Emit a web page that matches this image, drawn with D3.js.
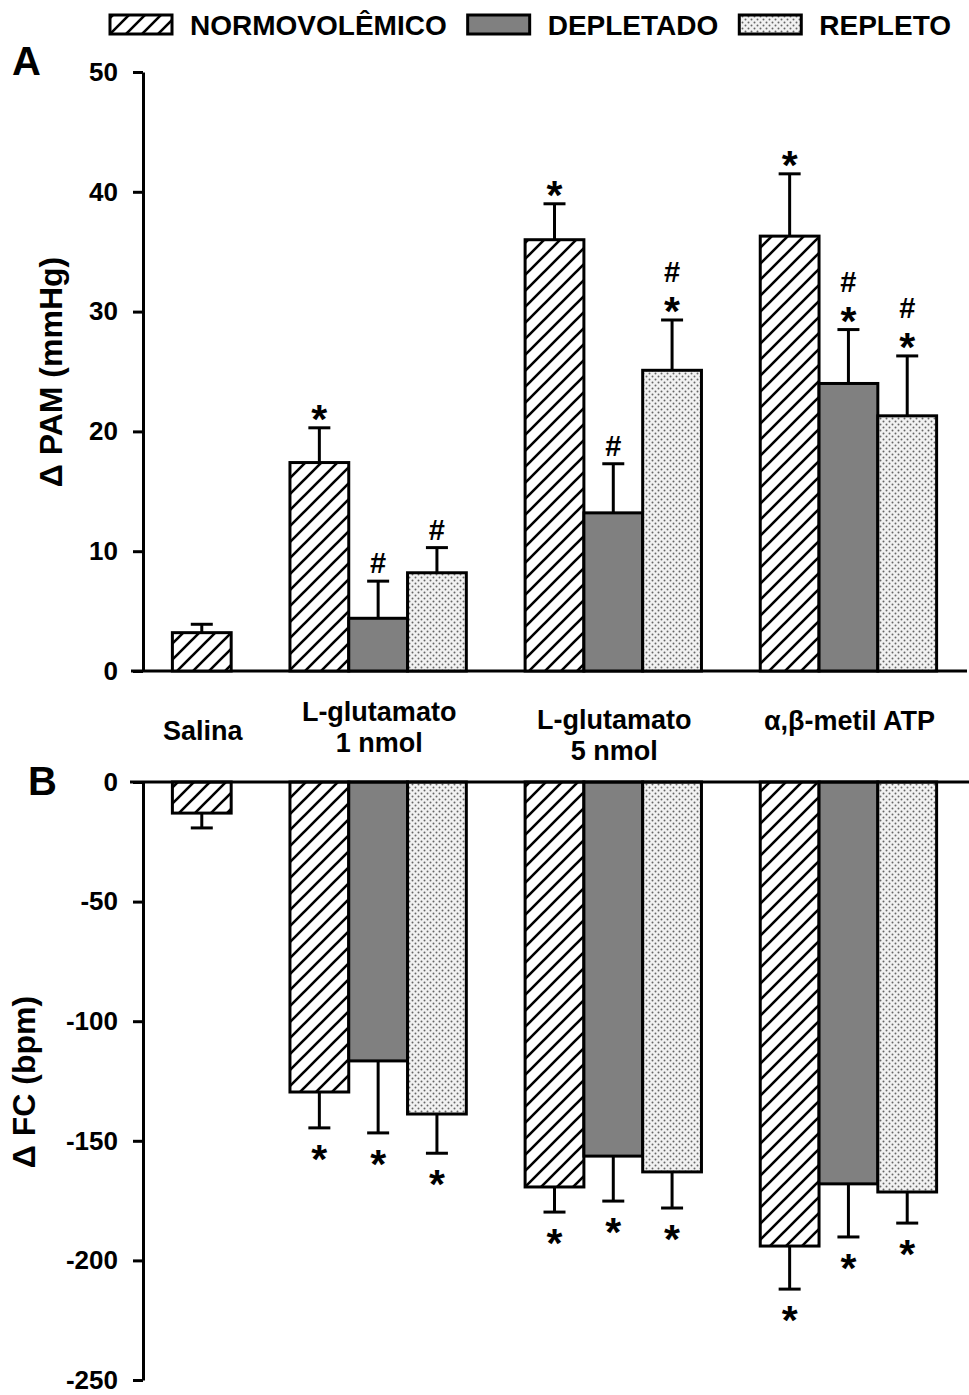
<!DOCTYPE html>
<html lang="pt">
<head>
<meta charset="UTF-8">
<title>PAM e FC</title>
<script src="https://d3js.org/d3.v7.min.js"></script>
<style>
    body { margin: 0; background: #fff; }
    svg text { font-family: "Liberation Sans", Arial, sans-serif; font-weight: bold; fill: #000; }
</style>
</head>
<body>
<svg width="969" height="1395"></svg>
<script>
// ---- data ----
const categories = ["Salina", "L-glutamato\n1 nmol", "L-glutamato\n5 nmol", "α,β-metil ATP"];
const seriesNames = ["NORMOVOLÊMICO", "DEPLETADO", "REPLETO"];

// Δ PAM (mmHg), mean and error
const pamNormo = [3.2, 17.4, 36.0, 36.3];
const pamDepl  = [null, 4.4, 13.2, 24.0];
const pamRepl  = [null, 8.2, 25.1, 21.3];
const pamNormoErr = [0.7, 2.9, 3.0, 5.2];
const pamDeplErr  = [null, 3.1, 4.1, 4.5];
const pamReplErr  = [null, 2.1, 4.2, 5.0];
const pamNormoSig = [[], ["*"], ["*"], ["*"]];
const pamDeplSig  = [[], ["#"], ["#"], ["#", "*"]];
const pamReplSig  = [[], ["#"], ["#", "*"], ["#", "*"]];

// Δ FC (bpm), mean and error
const fcNormo = [-13.0, -129.6, -169.3, -194.0];
const fcDepl  = [null, -116.6, -156.4, -168.0];
const fcRepl  = [null, -138.8, -163.0, -171.4];
const fcNormoErr = [6.2, 15.0, 10.5, 18.0];
const fcDeplErr  = [null, 30.1, 18.8, 22.2];
const fcReplErr  = [null, 16.4, 15.1, 13.0];
const fcNormoSig = [[], ["*"], ["*"], ["*"]];
const fcDeplSig  = [[], ["*"], ["*"], ["*"]];
const fcReplSig  = [[], ["*"], ["*"], ["*"]];

const pamTicks = [0, 10, 20, 30, 40, 50];
const fcTicks = [0, -50, -100, -150, -200, -250];

// ---- setup ----
const svg = d3.select("svg");
const font = "Liberation Sans, Arial, sans-serif";

const defs = svg.append("defs");
const hatch = defs.append("pattern").attr("id", "hatch")
    .attr("patternUnits", "userSpaceOnUse").attr("width", 16).attr("height", 16);
hatch.append("rect").attr("width", 16).attr("height", 16).attr("fill", "#fff");
hatch.append("path").attr("d", "M0,16 L16,0 M-4,4 L4,-4 M12,20 L20,12")
    .attr("stroke", "#000").attr("stroke-width", 2.6);

const dots = defs.append("pattern").attr("id", "dots")
    .attr("patternUnits", "userSpaceOnUse").attr("width", 6).attr("height", 6);
dots.append("rect").attr("width", 6).attr("height", 6).attr("fill", "#f2f2f2");
dots.append("circle").attr("cx", 1.5).attr("cy", 1.5).attr("r", 1).attr("fill", "#666");
dots.append("circle").attr("cx", 4.5).attr("cy", 4.5).attr("r", 1).attr("fill", "#666");

const fills = ["url(#hatch)", "#808080", "url(#dots)"];

// slot layout: each group takes as many slots as it has bars, with one empty slot between groups
const bars = [];
const groupCenters = [];
let slot = 0;
categories.forEach((c, i) => {
    const start = slot;
    [pamNormo, pamDepl, pamRepl].forEach((arr, s) => {
        if (arr[i] != null) {
            bars.push({ cat: i, s: s, slot: slot });
            slot++;
        }
    });
    groupCenters.push((start + slot - 1) / 2);
    slot++;
});
const nSlots = slot - 1;

const x = d3.scaleLinear().domain([-0.5, nSlots + 0.5]).range([143, 966]);
const bw = x(1) - x(0);

const yA = d3.scaleLinear().domain([0, 50]).range([671, 72]);
const yB = d3.scaleLinear().domain([-250, 0]).range([1380, 782]);

// ---- axes ----
function drawYAxis(scale, ticks, minor) {
    const g = svg.append("g").attr("transform", "translate(143,0)");
    g.call(d3.axisLeft(scale).tickValues(minor).tickSize(5).tickSizeOuter(0).tickFormat(""));
    g.call(d3.axisLeft(scale).tickValues(ticks).tickSize(10).tickSizeOuter(0).tickPadding(15)
        .tickFormat(d => String(d)));
    g.selectAll("path, line").attr("stroke", "#000").attr("stroke-width", 3);
    g.selectAll("text").attr("font-size", 26).attr("font-family", font).attr("font-weight", "bold");
}
drawYAxis(yA, pamTicks, [5, 15, 25, 35, 45]);
drawYAxis(yB, fcTicks, [-25, -75, -125, -175, -225]);

svg.append("line").attr("x1", 131).attr("x2", 967).attr("y1", yA(0)).attr("y2", yA(0))
    .attr("stroke", "#000").attr("stroke-width", 3);

// ---- bars ----
function drawPanel(scale, means, errs, sigs, up) {
    const g = svg.append("g");
    bars.forEach(b => {
        const v = means[b.s][b.cat];
        const e = errs[b.s][b.cat];
        const cx = x(b.slot + 0.5);
        const end = scale(v + (up ? e : -e));
        // error bar
        g.append("line").attr("x1", cx).attr("x2", cx)
            .attr("y1", scale(v)).attr("y2", end)
            .attr("stroke", "#000").attr("stroke-width", 3);
        g.append("line").attr("x1", cx - 11).attr("x2", cx + 11)
            .attr("y1", end).attr("y2", end)
            .attr("stroke", "#000").attr("stroke-width", 3);
        // bar
        g.append("rect")
            .attr("x", x(b.slot)).attr("width", bw)
            .attr("y", Math.min(scale(v), scale(0)))
            .attr("height", Math.abs(scale(v) - scale(0)))
            .attr("fill", fills[b.s])
            .attr("stroke", "#000").attr("stroke-width", 3);
        // significance marks
        const marks = sigs[b.s][b.cat];
        marks.slice().reverse().forEach((m, k) => {
            const centerY = up ? end - 18 - 30 * k : end + 22 + 30 * k;
            const isStar = m === "*";
            g.append("text")
                .attr("x", cx).attr("y", centerY + (isStar ? 23 : 10))
                .attr("text-anchor", "middle")
                .attr("font-size", isStar ? 41 : 29)
                .text(m);
        });
    });
}

drawPanel(yA, [pamNormo, pamDepl, pamRepl], [pamNormoErr, pamDeplErr, pamReplErr],
    [pamNormoSig, pamDeplSig, pamReplSig], true);
drawPanel(yB, [fcNormo, fcDepl, fcRepl], [fcNormoErr, fcDeplErr, fcReplErr],
    [fcNormoSig, fcDeplSig, fcReplSig], false);

svg.append("line").attr("x1", 130).attr("x2", 969).attr("y1", yB(0)).attr("y2", yB(0))
    .attr("stroke", "#000").attr("stroke-width", 3);

// ---- category labels ----
const labelY = [730, 711, 719, 720];
categories.forEach((c, i) => {
    const cx = x(groupCenters[i] + 0.5) + 1;
    const t = svg.append("text")
        .attr("text-anchor", "middle")
        .attr("font-size", 27);
    c.split("\n").forEach((line, j) => {
        t.append("tspan").attr("x", cx)
            .attr("y", labelY[i] + 10 + j * 31).text(line);
    });
});

// ---- axis titles and panel letters ----
svg.append("text").attr("transform", "translate(62,372) rotate(-90)")
    .attr("text-anchor", "middle").attr("font-size", 32).text("Δ PAM (mmHg)");
svg.append("text").attr("transform", "translate(35,1082) rotate(-90)")
    .attr("text-anchor", "middle").attr("font-size", 32).text("Δ FC (bpm)");
svg.append("text").attr("x", 12).attr("y", 75).attr("font-size", 40).text("A");
svg.append("text").attr("x", 28).attr("y", 795).attr("font-size", 40).text("B");

// ---- legend ----
let lx = 110;
seriesNames.forEach((name, s) => {
    svg.append("rect").attr("x", lx).attr("y", 15).attr("width", 62).attr("height", 19)
        .attr("fill", fills[s]).attr("stroke", "#000").attr("stroke-width", 3);
    const t = svg.append("text").attr("x", lx + 80).attr("y", 35)
        .attr("font-size", 28).text(name);
    lx += 80 + t.node().getComputedTextLength() + 21;
});
</script>
</body>
</html>
